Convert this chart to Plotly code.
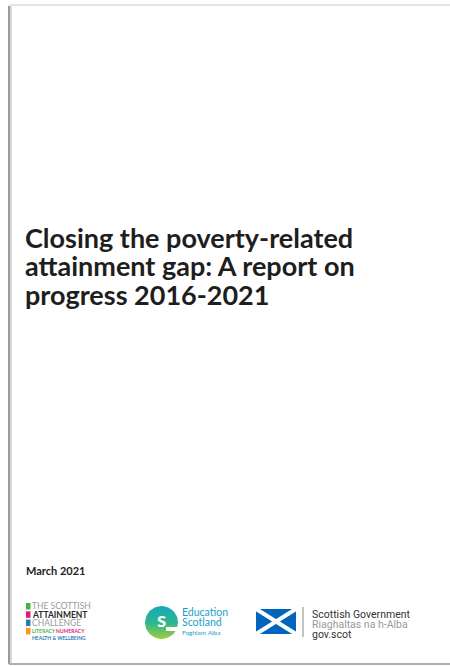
import numpy as np
import plotly.graph_objects as go

# ---- content ----
title_lines = ["Closing the poverty-related", "attainment gap: A report on", "progress 2016-2021"]
date_label = "March 2021"
sac_lines = ["THE SCOTTISH", "ATTAINMENT", "CHALLENGE"]
sac_sub1 = ["LITERACY", "NUMERACY"]
sac_sub2 = "HEALTH & WELLBEING"
sac_colors = ["#3fb549", "#e6187e", "#2a7ab8", "#f39a1f"]
es_lines = ["Education", "Scotland", "Foghlam Alba"]
sg_lines = ["Scottish Government", "Riaghaltas na h-Alba", "gov.scot"]

W, H = 450, 666
fig = go.Figure()
shapes = []
ann = []

def text(x, y, s, size, color="#222", family="Lato", bold=False, anchor="left"):
    ann.append(dict(x=x, y=y, xref="x", yref="y", text=("<b>%s</b>" % s) if bold else s,
                    showarrow=False, xanchor=anchor, yanchor="middle",
                    font=dict(size=size, color=color, family=family)))

# page edges / shadow
shapes.append(dict(type="line", x0=9, x1=9, y0=6, y1=664, line=dict(color="#9a9a9a", width=2)))
shapes.append(dict(type="line", x0=11, x1=11, y0=6, y1=664, line=dict(color="#d8d8d8", width=2)))
shapes.append(dict(type="line", x0=9, x1=450, y0=5, y1=5, line=dict(color="#e6e6e6", width=2)))
shapes.append(dict(type="line", x0=9, x1=450, y0=664, y1=664, line=dict(color="#b0b0b0", width=2)))

# title
for i, s in enumerate(title_lines):
    text(23, 237 + i * 28.5, s, 27, color="#1e1e1e", bold=True)

text(24, 570, date_label, 11, color="#222", bold=True)

# Scottish Attainment Challenge logo
for i, c in enumerate(sac_colors):
    shapes.append(dict(type="rect", x0=26, x1=30.5, y0=603 + i * 8.3, y1=609.5 + i * 8.3,
                       fillcolor=c, line=dict(width=0)))
text(30, 606, sac_lines[0], 8.5, color="#9a9a9a")
text(30, 614.5, "<b>" + sac_lines[1] + "</b>", 8.5, color="#2a2a2a")
text(30, 623, sac_lines[2], 8.5, color="#9a9a9a")
ann.append(dict(x=30, y=631, xref="x", yref="y", showarrow=False, xanchor="left", yanchor="middle",
                text="<b><span style='color:#3fb549'>%s</span> <span style='color:#e6187e'>%s</span></b>" % tuple(sac_sub1),
                font=dict(size=5, family="Lato")))
text(30, 637.5, sac_sub2, 5, color="#2a7ab8", bold=True)

# Education Scotland logo
th = np.linspace(0, 2 * np.pi, 80)
fig.add_trace(go.Scatter(x=161.5 + 16.5 * np.cos(th), y=622.5 + 16.5 * np.sin(th), mode="lines",
                         fill="toself", line=dict(width=0), hoverinfo="skip",
                         fillgradient=dict(type="vertical",
                                           colorscale=[[0, "#9ccf3a"], [0.5, "#2cb58f"], [1, "#17a9b8"]])))
shapes.append(dict(type="rect", x0=166, x1=179, y0=627, y1=631, fillcolor="white", line=dict(width=0)))
text(161, 618, "<b>s</b>", 21, color="white", family="Lato", anchor="center")
text(180, 612, es_lines[0], 10.5, color="#1aa0c8")
text(180, 622, es_lines[1], 10.5, color="#1aa0c8")
text(180, 632, es_lines[2], 6.5, color="#1aa0c8")

# Scottish Government logo
shapes.append(dict(type="rect", x0=256, x1=296, y0=609, y1=634, fillcolor="#0065bd", line=dict(width=0)))
shapes.append(dict(type="line", x0=256, x1=296, y0=609, y1=634, line=dict(color="white", width=4)))
shapes.append(dict(type="line", x0=256, x1=296, y0=634, y1=609, line=dict(color="white", width=4)))
shapes.append(dict(type="line", x0=303, x1=303, y0=607, y1=637, line=dict(color="#888", width=1)))
text(310, 614, sg_lines[0], 10.5, color="#333", family="Roboto")
text(310, 624, sg_lines[1], 10.5, color="#9a9a9a", family="Roboto")
text(310, 634, sg_lines[2], 10.5, color="#333", family="Roboto")

fig.update_layout(width=W, height=H, margin=dict(l=0, r=0, t=0, b=0),
                  paper_bgcolor="white", plot_bgcolor="white", showlegend=False,
                  xaxis=dict(range=[0, W], visible=False, fixedrange=True),
                  yaxis=dict(range=[H, 0], visible=False, fixedrange=True),
                  shapes=shapes, annotations=ann)
fig.write_html("out.html", config={"displayModeBar": False},
               post_script="document.body.style.margin='0';document.body.style.overflow='hidden';")
